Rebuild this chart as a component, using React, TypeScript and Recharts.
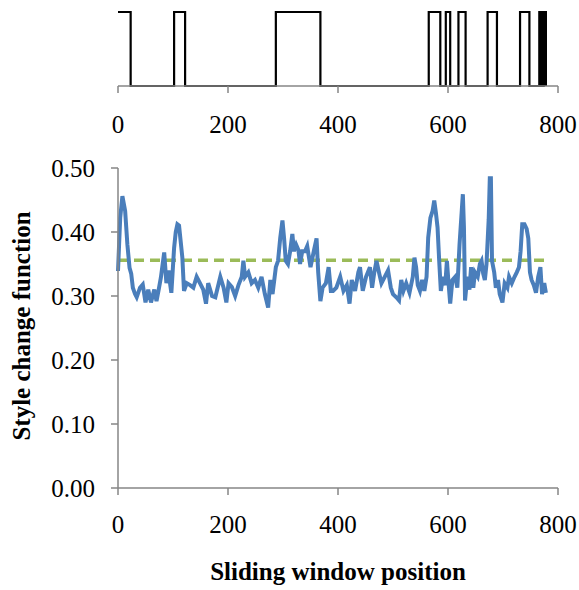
import { Line, LineChart, XAxis, YAxis } from "recharts";

// step indicator (top panel): position where the state changes, and the new state
const stepPos = [0, 23, 102, 122, 287, 368, 565, 586, 596, 604, 619, 632, 672, 689, 731, 748, 766, 770, 774, 778];
const stepVal = [1, 0, 1, 0, 1, 0, 1, 0, 1, 0, 1, 0, 1, 0, 1, 0, 1, 0, 1, 0];

// style change function (bottom panel)
const scfPos = [
  0, 4, 8, 13, 17, 21, 24, 27, 31, 34, 40, 45, 50, 55, 60, 66, 70, 74, 78, 84,
  88, 92, 95, 97, 102, 105, 108, 111, 117, 120, 125, 131, 137, 143, 149, 155, 160, 164, 171, 177,
  186, 192, 197, 201, 207, 213, 219, 225, 228, 231, 237, 243, 249, 255, 261, 267, 273, 277, 281, 287,
  291, 295, 299, 302, 305, 309, 313, 317, 320, 324, 328, 331, 335, 340, 344, 350, 356, 361, 364, 368,
  372, 378, 383, 387, 391, 397, 404, 410, 416, 421, 425, 431, 437, 440, 445, 451, 458, 462, 466, 470,
  475, 479, 485, 491, 496, 500, 506, 511, 515, 519, 524, 530, 536, 539, 542, 545, 549, 553, 557, 561,
  564, 568, 572, 575, 578, 581, 584, 587, 591, 595, 598, 601, 604, 608, 613, 617, 621, 625, 627, 629,
  631, 635, 639, 642, 646, 649, 654, 658, 661, 664, 667, 670, 674, 676, 678, 680, 684, 687, 691, 694,
  699, 703, 708, 711, 716, 721, 725, 729, 732, 735, 739, 743, 746, 749, 752, 756, 760, 764, 768, 771,
  775, 778,
];
const scfVal = [
  0.339, 0.422, 0.456, 0.433, 0.381, 0.344, 0.335, 0.313, 0.303, 0.298, 0.313, 0.318, 0.29, 0.31, 0.29, 0.31, 0.292, 0.31, 0.329, 0.368,
  0.32, 0.34, 0.317, 0.305, 0.375, 0.4, 0.412, 0.41, 0.36, 0.308, 0.32, 0.317, 0.313, 0.33, 0.32, 0.31, 0.288, 0.32, 0.3, 0.298,
  0.33, 0.313, 0.29, 0.32, 0.314, 0.3, 0.317, 0.33, 0.355, 0.33, 0.337, 0.32, 0.325, 0.313, 0.33, 0.303, 0.282, 0.325, 0.303, 0.345,
  0.355, 0.391, 0.418, 0.39, 0.355, 0.35, 0.37, 0.397, 0.37, 0.38, 0.372, 0.35, 0.37, 0.37, 0.378, 0.345, 0.37, 0.39, 0.337, 0.292,
  0.313, 0.32, 0.345, 0.308, 0.308, 0.313, 0.33, 0.308, 0.317, 0.288, 0.325, 0.308, 0.337, 0.345, 0.308, 0.33, 0.345, 0.313, 0.337, 0.355,
  0.335, 0.32, 0.33, 0.34, 0.313, 0.303, 0.298, 0.293, 0.325, 0.308, 0.32, 0.305, 0.33, 0.36, 0.345, 0.317, 0.308, 0.325, 0.308, 0.33,
  0.391, 0.422, 0.433, 0.449, 0.43, 0.407, 0.355, 0.308, 0.33, 0.317, 0.355, 0.32, 0.288, 0.325, 0.33, 0.313, 0.381, 0.433, 0.459, 0.407,
  0.293, 0.33, 0.31, 0.345, 0.313, 0.337, 0.33, 0.35, 0.355, 0.335, 0.325, 0.35, 0.42, 0.484, 0.484, 0.355, 0.337, 0.313, 0.325, 0.303,
  0.29, 0.32, 0.313, 0.33, 0.32, 0.33, 0.337, 0.345, 0.37, 0.412, 0.412, 0.405, 0.39, 0.337, 0.325, 0.317, 0.305, 0.33, 0.345, 0.303,
  0.32, 0.305,
];

// threshold (dashed)
const thrPos = [0, 778];
const thrVal = [0.356, 0.356];

const xTicks = [0, 200, 400, 600, 800];
const yTicks = [0, 0.1, 0.2, 0.3, 0.4, 0.5];

const stepData = stepPos.map((x, i) => ({ x, v: stepVal[i] }));
const scfData = scfPos.map((x, i) => ({ x, v: scfVal[i] }));
const thrData = thrPos.map((x, i) => ({ x, v: thrVal[i] }));

const font = '"Liberation Serif", "Times New Roman", serif';
const axisColor = "#868686";
const tickStyle = { fill: "#000", fontSize: 25, fontFamily: font };

export default function App() {
  return (
    <div style={{ position: "absolute", left: 0, top: 0, width: 579, height: 590, background: "#fff", fontFamily: font }}>
      <div style={{ position: "absolute", left: 0, top: 0 }}>
        <LineChart width={579} height={140} data={stepData} margin={{ top: 12, right: 21, left: 118, bottom: 0 }}>
          <XAxis
            dataKey="x"
            type="number"
            domain={[0, 800]}
            ticks={xTicks}
            height={54}
            tickSize={7}
            tickMargin={22}
            stroke={axisColor}
            strokeWidth={1.5}
            tick={tickStyle}
          />
          <YAxis hide domain={[0, 1]} />
          <Line type="stepAfter" dataKey="v" stroke="#000" strokeWidth={2.2} dot={false} isAnimationActive={false} />
        </LineChart>
      </div>
      <div style={{ position: "absolute", left: 0, top: 140 }}>
        <LineChart width={579} height={410} margin={{ top: 28, right: 21, left: 0, bottom: 0 }}>
          <XAxis
            dataKey="x"
            type="number"
            domain={[0, 800]}
            ticks={xTicks}
            height={62}
            tickSize={7}
            tickMargin={20}
            stroke={axisColor}
            strokeWidth={1.5}
            tick={tickStyle}
            allowDuplicatedCategory={false}
          />
          <YAxis
            type="number"
            domain={[0, 0.5]}
            ticks={yTicks}
            width={118}
            tickSize={7}
            tickMargin={16}
            stroke={axisColor}
            strokeWidth={1.5}
            tick={tickStyle}
            tickFormatter={(v: number) => v.toFixed(2)}
          />
          <Line data={thrData} dataKey="v" stroke="#9BBB59" strokeWidth={3.5} strokeDasharray="10 6" dot={false} isAnimationActive={false} />
          <Line data={scfData} type="linear" dataKey="v" stroke="#4A7EBB" strokeWidth={4} dot={false} isAnimationActive={false} />
        </LineChart>
      </div>
      <div
        style={{
          position: "absolute",
          left: 338,
          top: 572,
          transform: "translate(-50%, -50%)",
          fontSize: 25,
          fontWeight: "bold",
          whiteSpace: "nowrap",
        }}
      >
        Sliding window position
      </div>
      <div
        style={{
          position: "absolute",
          left: 22,
          top: 326,
          transform: "translate(-50%, -50%) rotate(-90deg)",
          fontSize: 25,
          fontWeight: "bold",
          whiteSpace: "nowrap",
        }}
      >
        Style change function
      </div>
    </div>
  );
}
